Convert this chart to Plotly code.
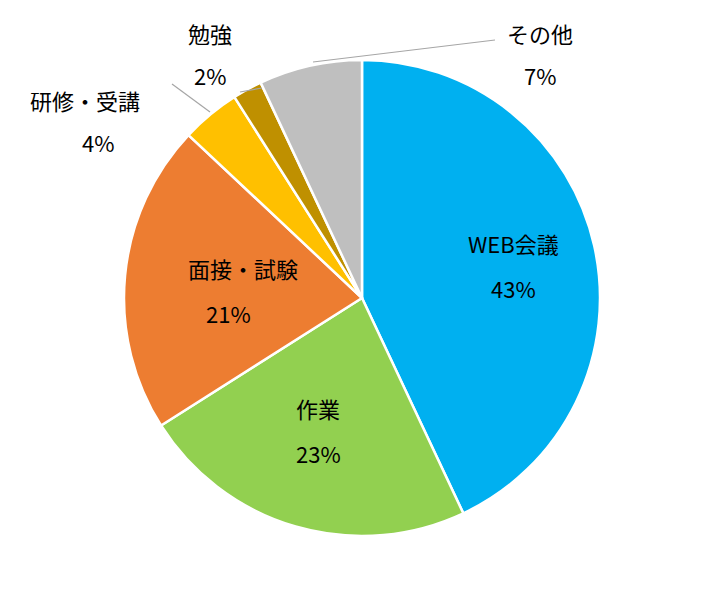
import plotly.graph_objects as go

labels = ["WEB会議", "作業", "面接・試験", "研修・受講", "勉強", "その他"]
values = [43, 23, 21, 4, 2, 7]
pct_text = ["43%", "23%", "21%", "4%", "2%", "7%"]
colors = ["#00B0F0", "#92D050", "#ED7D31", "#FFC000", "#BF9000", "#BFBFBF"]

# page body has an 8px margin; lay out figure so it maps onto the 726x595 window
OFF = 8
W, H = 726 - OFF, 595 - OFF
def P(x, y):
    return (x - OFF) / W, 1 - (y - OFF) / H

x0d, y1d = P(124, 60)
x1d, y0d = P(600, 536)

fig = go.Figure(go.Pie(
    labels=labels, values=values, sort=False, direction="clockwise", rotation=0,
    marker=dict(colors=colors, line=dict(color="white", width=2.5)),
    textinfo="none",
    domain=dict(x=[x0d, x1d], y=[y0d, y1d]),
    showlegend=False, hoverinfo="label+percent",
))

# label positions (layout) for each slice: (label x, label y, pct x, pct y)
pos = [(513, 243, 513, 288), (318, 408, 318, 453), (243, 268, 228, 313),
       (85, 100, 98, 142), (210, 33, 210, 75), (540, 33, 540, 75)]
for lab, pt, (lx, ly, px_, py_) in zip(labels, pct_text, pos):
    for t, x, y in ((lab, lx, ly), (pt, px_, py_)):
        a, b = P(x, y)
        fig.add_annotation(x=a, y=b, xref="paper", yref="paper", text=t, showarrow=False,
                           xanchor="center", yanchor="middle",
                           font=dict(size=22, color="black", family="Noto Sans CJK JP"))

lines = [((313, 62), (495, 40)), ((240, 92), (262, 88)), ((172, 84), (210, 112))]
for (xa, ya), (xb, yb) in lines:
    a, b = P(xa, ya); c, d = P(xb, yb)
    fig.add_shape(type="line", xref="paper", yref="paper", x0=a, y0=b, x1=c, y1=d,
                  line=dict(color="#A6A6A6", width=1.2))

fig.update_layout(width=W, height=H, margin=dict(l=0, r=0, t=0, b=0),
                  paper_bgcolor="white", font=dict(family="Noto Sans CJK JP"))
fig.write_html("out.html")
